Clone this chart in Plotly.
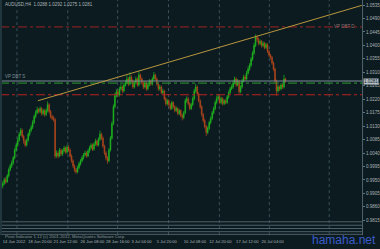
import plotly.graph_objects as go

symbol = "AUDUSD,H4"
first_open = 0.9930

close = [
    0.9938, 0.9951, 0.9944, 0.9964, 0.9984, 0.9997, 1.0007, 1.0024, 1.0050, 1.0067,
    1.0083, 1.0103, 1.0116, 1.0096, 1.0080, 1.0067, 1.0083, 1.0103, 1.0116, 1.0126,
    1.0142, 1.0162, 1.0175, 1.0185, 1.0179, 1.0189, 1.0172, 1.0182, 1.0169, 1.0182,
    1.0202, 1.0179, 1.0162, 1.0156, 1.0152, 1.0030, 1.0040, 1.0030, 1.0050, 1.0037,
    1.0047, 1.0057, 1.0043, 1.0060, 1.0050, 1.0030, 1.0014, 0.9997, 0.9984, 0.9977,
    0.9991, 1.0004, 1.0014, 1.0024, 1.0034, 1.0040, 1.0030, 1.0047, 1.0057, 1.0067,
    1.0053, 1.0070, 1.0080, 1.0067, 1.0086, 1.0103, 1.0090, 1.0063, 1.0040, 1.0024,
    1.0014, 1.0050, 1.0090, 1.0139, 1.0195, 1.0232, 1.0245, 1.0235, 1.0255, 1.0261,
    1.0248, 1.0268, 1.0275, 1.0288, 1.0271, 1.0294, 1.0281, 1.0261, 1.0275, 1.0288,
    1.0268, 1.0301, 1.0288, 1.0275, 1.0261, 1.0275, 1.0255, 1.0268, 1.0281, 1.0271,
    1.0288, 1.0301, 1.0288, 1.0271, 1.0255, 1.0261, 1.0242, 1.0248, 1.0222, 1.0205,
    1.0215, 1.0202, 1.0189, 1.0209, 1.0195, 1.0182, 1.0189, 1.0172, 1.0182, 1.0166,
    1.0159, 1.0175, 1.0215, 1.0222, 1.0205, 1.0189, 1.0202, 1.0222, 1.0248, 1.0261,
    1.0238, 1.0215, 1.0195, 1.0169, 1.0149, 1.0129, 1.0109, 1.0123, 1.0142, 1.0156,
    1.0175, 1.0189, 1.0209, 1.0222, 1.0228, 1.0209, 1.0222, 1.0205, 1.0215, 1.0209,
    1.0228, 1.0242, 1.0255, 1.0261, 1.0275, 1.0288, 1.0268, 1.0281, 1.0245, 1.0261,
    1.0281, 1.0294, 1.0288, 1.0308, 1.0321, 1.0334, 1.0354, 1.0374, 1.0400, 1.0427,
    1.0420, 1.0407, 1.0413, 1.0400, 1.0407, 1.0393, 1.0403, 1.0380, 1.0367, 1.0360,
    1.0341, 1.0321, 1.0281, 1.0248, 1.0261, 1.0255, 1.0268, 1.0261, 1.0288, 1.0281,
]

high = [
    0.9946, 0.9958, 0.9960, 0.9970, 0.9991, 1.0003, 1.0015, 1.0030, 1.0058, 1.0073,
    1.0092, 1.0110, 1.0124, 1.0122, 1.0101, 1.0086, 1.0089, 1.0109, 1.0121, 1.0134,
    1.0150, 1.0168, 1.0183, 1.0195, 1.0191, 1.0196, 1.0194, 1.0188, 1.0187, 1.0190,
    1.0213, 1.0207, 1.0184, 1.0168, 1.0165, 1.0158, 1.0049, 1.0046, 1.0057, 1.0055,
    1.0053, 1.0064, 1.0062, 1.0067, 1.0066, 1.0055, 1.0036, 1.0019, 1.0002, 0.9990,
    0.9998, 1.0011, 1.0020, 1.0031, 1.0040, 1.0048, 1.0046, 1.0053, 1.0064, 1.0073,
    1.0072, 1.0076, 1.0088, 1.0085, 1.0093, 1.0115, 1.0108, 1.0095, 1.0068, 1.0046,
    1.0030, 1.0057, 1.0097, 1.0146, 1.0203, 1.0242, 1.0254, 1.0252, 1.0262, 1.0270,
    1.0266, 1.0276, 1.0283, 1.0300, 1.0294, 1.0310, 1.0300, 1.0286, 1.0281, 1.0296,
    1.0293, 1.0314, 1.0306, 1.0293, 1.0280, 1.0281, 1.0280, 1.0274, 1.0288, 1.0286,
    1.0295, 1.0311, 1.0306, 1.0293, 1.0276, 1.0268, 1.0266, 1.0255, 1.0252, 1.0227,
    1.0221, 1.0220, 1.0207, 1.0215, 1.0213, 1.0200, 1.0196, 1.0193, 1.0188, 1.0186,
    1.0171, 1.0181, 1.0222, 1.0230, 1.0227, 1.0210, 1.0208, 1.0229, 1.0255, 1.0272,
    1.0266, 1.0243, 1.0220, 1.0200, 1.0174, 1.0155, 1.0134, 1.0130, 1.0148, 1.0163,
    1.0181, 1.0196, 1.0216, 1.0232, 1.0238, 1.0233, 1.0228, 1.0227, 1.0221, 1.0220,
    1.0234, 1.0249, 1.0262, 1.0270, 1.0283, 1.0296, 1.0293, 1.0288, 1.0285, 1.0267,
    1.0288, 1.0302, 1.0301, 1.0315, 1.0330, 1.0341, 1.0361, 1.0382, 1.0408, 1.0437,
    1.0434, 1.0426, 1.0420, 1.0418, 1.0414, 1.0412, 1.0409, 1.0408, 1.0385, 1.0372,
    1.0365, 1.0346, 1.0326, 1.0286, 1.0268, 1.0266, 1.0274, 1.0273, 1.0302, 1.0292,
]

low = [
    0.9922, 0.9933, 0.9937, 0.9940, 0.9958, 0.9979, 0.9990, 1.0001, 1.0019, 1.0044,
    1.0060, 1.0078, 1.0097, 1.0090, 1.0071, 1.0060, 1.0062, 1.0078, 1.0096, 1.0110,
    1.0120, 1.0137, 1.0156, 1.0170, 1.0172, 1.0173, 1.0165, 1.0166, 1.0162, 1.0163,
    1.0176, 1.0172, 1.0156, 1.0150, 1.0145, 1.0022, 1.0024, 1.0022, 1.0026, 1.0031,
    1.0030, 1.0042, 1.0037, 1.0038, 1.0044, 1.0024, 1.0007, 0.9990, 0.9976, 0.9970,
    0.9972, 0.9986, 0.9998, 1.0009, 1.0018, 1.0029, 1.0024, 1.0026, 1.0041, 1.0051,
    1.0047, 1.0048, 1.0064, 1.0061, 1.0062, 1.0080, 1.0084, 1.0057, 1.0033, 1.0016,
    1.0004, 1.0009, 1.0045, 1.0084, 1.0133, 1.0189, 1.0226, 1.0228, 1.0229, 1.0249,
    1.0241, 1.0243, 1.0262, 1.0270, 1.0264, 1.0266, 1.0275, 1.0255, 1.0256, 1.0270,
    1.0262, 1.0263, 1.0282, 1.0269, 1.0254, 1.0256, 1.0248, 1.0250, 1.0263, 1.0265,
    1.0266, 1.0283, 1.0282, 1.0265, 1.0248, 1.0249, 1.0236, 1.0237, 1.0215, 1.0198,
    1.0199, 1.0196, 1.0183, 1.0184, 1.0189, 1.0176, 1.0177, 1.0166, 1.0167, 1.0160,
    1.0149, 1.0153, 1.0170, 1.0208, 1.0199, 1.0183, 1.0184, 1.0197, 1.0216, 1.0242,
    1.0232, 1.0209, 1.0188, 1.0162, 1.0142, 1.0122, 1.0097, 1.0103, 1.0117, 1.0136,
    1.0150, 1.0169, 1.0183, 1.0203, 1.0216, 1.0203, 1.0203, 1.0199, 1.0200, 1.0203,
    1.0204, 1.0222, 1.0237, 1.0250, 1.0255, 1.0270, 1.0262, 1.0263, 1.0238, 1.0240,
    1.0256, 1.0276, 1.0282, 1.0283, 1.0302, 1.0315, 1.0328, 1.0348, 1.0368, 1.0394,
    1.0412, 1.0400, 1.0401, 1.0393, 1.0394, 1.0387, 1.0388, 1.0374, 1.0361, 1.0353,
    1.0335, 1.0314, 1.0273, 1.0232, 1.0242, 1.0248, 1.0250, 1.0255, 1.0256, 1.0275,
]

open_ = [first_open] + close[:-1]
bars = list(range(len(close)))

time_tick_bars = [0, 17, 34, 52, 69, 86, 103, 121, 138, 156, 173]
time_tick_text = ["14 Jun 2012", "18 Jun 20:00", "21 Jun 12:00", "26 Jun 08:00",
                  "28 Jun 16:00", "3 Jul 04:00", "5 Jul 20:00", "10 Jul 08:00",
                  "12 Jul 20:00", "17 Jul 12:00", "20 Jul 04:00"]

price_ticks = [0.9815, 0.9860, 0.9905, 0.9950, 0.9995, 1.0040, 1.0085, 1.0130,
               1.0175, 1.0220, 1.0265, 1.0310, 1.0355, 1.0400, 1.0445, 1.0490, 1.0535]

grid_bars = [9.5, 43.5, 76.8, 110.8, 144.8, 178.2, 218.2]

bid_level = close[-1]
green_level = 1.0274
red_level = 1.0235
vp_level = 1.0462
trend_bars = [23.5, 240.0]
trend_prices = [1.0215, 1.0534]

W, H = 380, 249
BG = "#0c1b20"
GRIDC = "#3b5058"
TXT = "#aab4b6"
X_RANGE = [-0.5, 240.17]
Y_RANGE = [0.9815, 1.0552]
MAIN_BOTTOM = 223

fig = go.Figure()
fig.add_trace(go.Candlestick(
    x=bars, open=open_, high=high, low=low, close=close,
    increasing=dict(line=dict(color="#1fb81f", width=0.7), fillcolor="#1fb81f"),
    decreasing=dict(line=dict(color="#b4481c", width=0.7), fillcolor="#b4481c"),
    whiskerwidth=0, showlegend=False, hoverinfo="skip",
))

shapes = []
for g in grid_bars:
    shapes.append(dict(type="line", xref="x", yref="paper", x0=g, x1=g,
                       y0=(H - 238) / H, y1=1, line=dict(color=GRIDC, width=1, dash="dot"),
                       layer="below"))
# level lines
shapes.append(dict(type="line", xref="paper", yref="y", x0=0, x1=363 / W,
                   y0=vp_level, y1=vp_level, line=dict(color="#a02222", width=1, dash="dashdot")))
shapes.append(dict(type="line", xref="paper", yref="y", x0=0, x1=363 / W,
                   y0=red_level, y1=red_level, line=dict(color="#b82222", width=1, dash="dashdot")))
shapes.append(dict(type="line", xref="paper", yref="y", x0=0, x1=363 / W,
                   y0=green_level, y1=green_level, line=dict(color="#2a9a2a", width=1, dash="dashdot")))
shapes.append(dict(type="line", xref="paper", yref="y", x0=0, x1=363 / W,
                   y0=bid_level, y1=bid_level, line=dict(color="#7d8f99", width=1)))
# trend line
shapes.append(dict(type="line", xref="x", yref="y", x0=trend_bars[0], x1=trend_bars[1],
                   y0=trend_prices[0], y1=trend_prices[1], line=dict(color="#b8963e", width=1)))
# sub window lines
for py in [224.5, 228, 231.3, 234.5, 237.2]:
    shapes.append(dict(type="line", xref="paper", yref="paper", x0=0, x1=363 / W,
                       y0=(H - py) / H, y1=(H - py) / H, line=dict(color="#4e6068", width=1)))
# borders
shapes.append(dict(type="line", xref="paper", yref="paper", x0=363.5 / W, x1=363.5 / W,
                   y0=(H - 238) / H, y1=1, line=dict(color="#50646c", width=1)))
shapes.append(dict(type="line", xref="paper", yref="paper", x0=1 / W, x1=1 / W,
                   y0=(H - 238) / H, y1=1, line=dict(color="#22363e", width=2)))

annotations = [
    dict(text=f"{symbol}  {open_[-1]:.4f} {high[-1]:.4f} {low[-1]:.4f} {close[-1]:.4f}",
         xref="paper", yref="paper", x=3 / W, y=(H - 4.5) / H, xanchor="left", yanchor="middle",
         showarrow=False, font=dict(size=4.5, color=TXT)),
    dict(text="VP DBT D", xref="paper", yref="y", x=358 / W, y=vp_level, xanchor="right",
         yanchor="middle", showarrow=False, font=dict(size=4.5, color="#8a7070")),
    dict(text="VP DBT S", xref="paper", yref="y", x=3 / W, y=bid_level, xanchor="left",
         yanchor="bottom", showarrow=False, font=dict(size=4.5, color="#7d8f99")),
    dict(text=f"{bid_level:.4f}", xref="paper", yref="y", x=364 / W, y=bid_level, xanchor="left",
         yanchor="middle", showarrow=False, bgcolor="#b4bcc4", borderpad=0,
         font=dict(size=4.5, color="#0b1a1f")),
    dict(text="Pivot Indicator 1.12 (c) 2001-2012, MetaQuotes Software Corp.", xref="paper",
         yref="paper", x=3 / W, y=(H - 239.5) / H, xanchor="left", yanchor="middle",
         showarrow=False, font=dict(size=4.3, color="#8a9699")),
    dict(text="hamaha.net", xref="paper", yref="paper", x=379 / W, y=(H - 243) / H,
         xanchor="right", yanchor="middle", showarrow=False,
         font=dict(size=12, color="#3a5cc8", family="Liberation Sans, Arial")),
]

fig.update_layout(
    width=W, height=H, margin=dict(l=0, r=0, t=0, b=0),
    paper_bgcolor=BG, plot_bgcolor=BG,
    font=dict(family="Liberation Sans, Arial", size=4.5, color=TXT),
    shapes=shapes, annotations=annotations, showlegend=False,
    xaxis=dict(domain=[2 / W, 363 / W], range=X_RANGE, rangeslider=dict(visible=False),
               showgrid=False, zeroline=False, showline=False,
               anchor="free", position=(H - 241) / H,
               tickmode="array", tickvals=time_tick_bars, ticktext=time_tick_text,
               ticks="", ticklabelposition="outside right", tickangle=0,
               tickfont=dict(size=4.1, color=TXT)),
    yaxis=dict(domain=[(H - MAIN_BOTTOM) / H, 1], range=Y_RANGE, side="right",
               showgrid=False, zeroline=False, showline=False,
               tickmode="array", tickvals=price_ticks, tickformat=".4f",
               ticks="outside", ticklen=2, tickcolor="#60747c",
               tickfont=dict(size=4.5, color=TXT)),
)

fig.write_html("out.html")
